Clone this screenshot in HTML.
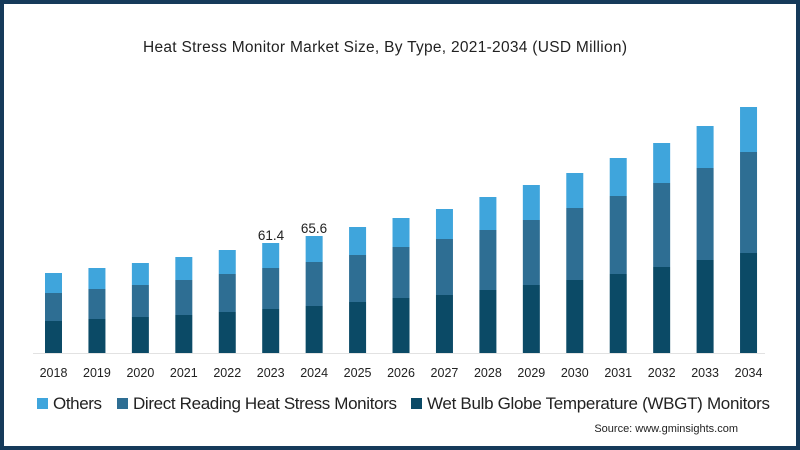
<!DOCTYPE html>
<html><head><style>
body{margin:0;width:800px;height:450px;overflow:hidden;background:#fff;font-family:"Liberation Sans",sans-serif}
#f{position:absolute;left:0;top:0;width:792px;height:442px;border:4px solid #163a5a;background:#fff}
</style></head><body><div id="f"></div>
<svg width="800" height="450" style="position:absolute;left:0;top:0">
<text x="143" y="52" font-size="15.5" fill="#222" textLength="484">Heat Stress Monitor Market Size, By Type, 2021-2034 (USD Million)</text>
<line x1="33" y1="353.5" x2="765" y2="353.5" stroke="#e2e2e2" stroke-width="1"/>
<g id="bars"></g>
<text x="271" y="240" text-anchor="middle" font-size="13.5" fill="#222">61.4</text>
<text x="314" y="233" text-anchor="middle" font-size="13.5" fill="#222">65.6</text>
<g font-size="12.5" fill="#222" text-anchor="middle" id="yrs"></g>
<rect x="37" y="398" width="11" height="11" fill="#3fa5dc"/>
<text x="53" y="409" font-size="17" fill="#222" textLength="49">Others</text>
<rect x="117" y="398" width="11" height="11" fill="#2e6e93"/>
<text x="133" y="409" font-size="17" fill="#222" textLength="264">Direct Reading Heat Stress Monitors</text>
<rect x="411" y="398" width="11" height="11" fill="#0b4a66"/>
<text x="427" y="409" font-size="17" fill="#222" textLength="343">Wet Bulb Globe Temperature (WBGT) Monitors</text>
<text x="738" y="432" text-anchor="end" font-size="11" fill="#222">Source: www.gminsights.com</text>
</svg>
<script>
var d=[[273,293,321],[268,289,319],[263,285,317],[257,280,315],[250,274,312],[243,268,309],[236,262,306],[227,255,302],[218,247,298],[209,239,295],[197,230,290],[185,220,285],[173,208,280],[158,196,274],[143,183,267],[126,168,260],[107,152,253]];
var s="",y="";
d.forEach(function(b,i){var c=53.5+i*43.44,x=c-8.5;
s+='<rect x="'+x+'" y="'+b[0]+'" width="17" height="'+(b[1]-b[0])+'" fill="#3fa5dc"/>';
s+='<rect x="'+x+'" y="'+b[1]+'" width="17" height="'+(b[2]-b[1])+'" fill="#2e6e93"/>';
s+='<rect x="'+x+'" y="'+b[2]+'" width="17" height="'+(353-b[2])+'" fill="#0b4a66"/>';
y+='<text x="'+c+'" y="377">'+(2018+i)+'</text>';});
document.getElementById("bars").innerHTML=s;document.getElementById("yrs").innerHTML=y;
</script>
</body></html>
